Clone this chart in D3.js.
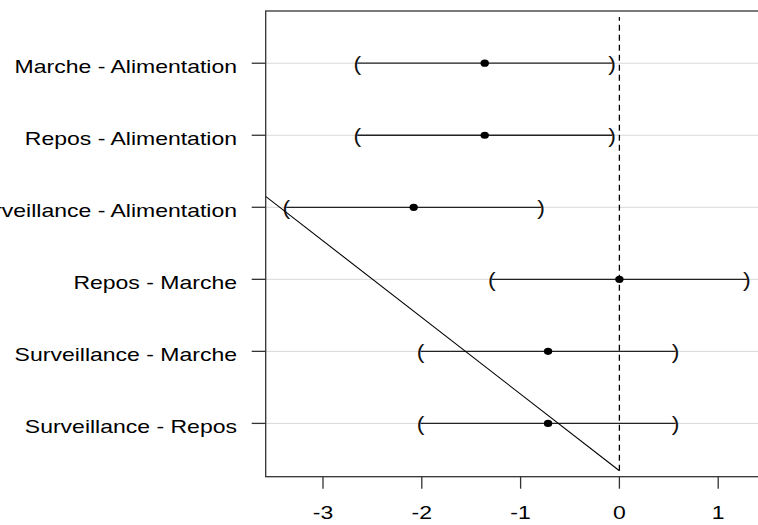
<!DOCTYPE html>
<html><head><meta charset="utf-8">
<script src="https://cdn.jsdelivr.net/npm/d3@7"></script>
<style>body{margin:0;background:#fff}svg{display:block}</style>
</head><body>
<svg id="c" width="758" height="525"></svg>
<script>
const labels = ["Marche - Alimentation", "Repos - Alimentation", "Surveillance - Alimentation",
                "Repos - Marche", "Surveillance - Marche", "Surveillance - Repos"];
const estimates = [-1.363, -1.363, -2.082, 0.0, -0.722, -0.722];
const lower = [-2.653, -2.653, -3.372, -1.29, -2.012, -2.012];
const upper = [-0.073, -0.073, -0.792, 1.29, 0.568, 0.568];
const xTicks = [-3, -2, -1, 0, 1];
const diagX = [0, -4];
const diagY = [0.342, 4.598];
const refX = 0, refYBottom = 0.342, refYTop = 6.64;

const svg = d3.select("#c");
const L = 265.7, R = 758.7, T = 11, B = 476.7;
const x = d3.scaleLinear().domain([-3.58, 1.41]).range([L, R]);
const y = d3.scaleLinear().domain([0.26, 6.725]).range([B, T]);
const n = labels.length;
const rowY = i => y(n - i);
const SX = 1.3;
const font = "'Liberation Sans', Arial, sans-serif";

svg.append("clipPath").attr("id", "pc").append("rect")
  .attr("x", L).attr("y", T).attr("width", 800).attr("height", B - T);

const g = svg.append("g");
g.selectAll(".grid").data(labels).join("line")
  .attr("x1", L).attr("x2", 800)
  .attr("y1", (d, i) => rowY(i)).attr("y2", (d, i) => rowY(i))
  .attr("stroke", "#d8d8d8").attr("stroke-width", 1);

g.selectAll(".yt").data(labels).join("line")
  .attr("x1", L - 14).attr("x2", L)
  .attr("y1", (d, i) => rowY(i)).attr("y2", (d, i) => rowY(i))
  .attr("stroke", "#333").attr("stroke-width", 1.3);

g.selectAll(".yl").data(labels).join("text")
  .attr("transform", (d, i) => `translate(237,${rowY(i) + 10}) scale(${SX},1)`)
  .attr("text-anchor", "end").attr("font-family", font).attr("font-size", 17.7)
  .attr("fill", "#000").text(d => d);

g.selectAll(".xt").data(xTicks).join("line")
  .attr("x1", d => x(d)).attr("x2", d => x(d)).attr("y1", B).attr("y2", B + 12)
  .attr("stroke", "#333").attr("stroke-width", 1.3);
g.selectAll(".xl").data(xTicks).join("text")
  .attr("transform", d => `translate(${x(d)},519) scale(${SX},1)`)
  .attr("text-anchor", "middle").attr("font-family", font).attr("font-size", 17.7)
  .attr("fill", "#000").text(d => d);

const pc = g.append("g").attr("clip-path", "url(#pc)");
pc.selectAll(".ci").data(labels).join("line")
  .attr("x1", (d, i) => x(lower[i])).attr("x2", (d, i) => x(upper[i]))
  .attr("y1", (d, i) => rowY(i)).attr("y2", (d, i) => rowY(i))
  .attr("stroke", "#222").attr("stroke-width", 1.3);
pc.selectAll(".bl").data(labels).join("text")
  .attr("transform", (d, i) => `translate(${x(lower[i])},${rowY(i) + 8}) scale(1.15,1)`)
  .attr("text-anchor", "middle").attr("font-family", font).attr("font-size", 20)
  .attr("fill", "#111").text("(");
pc.selectAll(".br").data(labels).join("text")
  .attr("transform", (d, i) => `translate(${x(upper[i])},${rowY(i) + 8}) scale(1.15,1)`)
  .attr("text-anchor", "middle").attr("font-family", font).attr("font-size", 20)
  .attr("fill", "#111").text(")");
pc.selectAll(".pt").data(labels).join("ellipse")
  .attr("cx", (d, i) => x(estimates[i])).attr("cy", (d, i) => rowY(i))
  .attr("rx", 4.2).attr("ry", 3.6).attr("fill", "#000");

pc.append("line")
  .attr("x1", x(refX)).attr("x2", x(refX)).attr("y1", y(refYBottom)).attr("y2", y(refYTop))
  .attr("stroke", "#000").attr("stroke-width", 1.3).attr("stroke-dasharray", "6,4");
pc.append("line")
  .attr("x1", x(diagX[0])).attr("y1", y(diagY[0])).attr("x2", x(diagX[1])).attr("y2", y(diagY[1]))
  .attr("stroke", "#000").attr("stroke-width", 1.1);

g.append("rect").attr("x", L).attr("y", T).attr("width", 800).attr("height", B - T)
  .attr("fill", "none").attr("stroke", "#333").attr("stroke-width", 1.3);
</script>
</body></html>
